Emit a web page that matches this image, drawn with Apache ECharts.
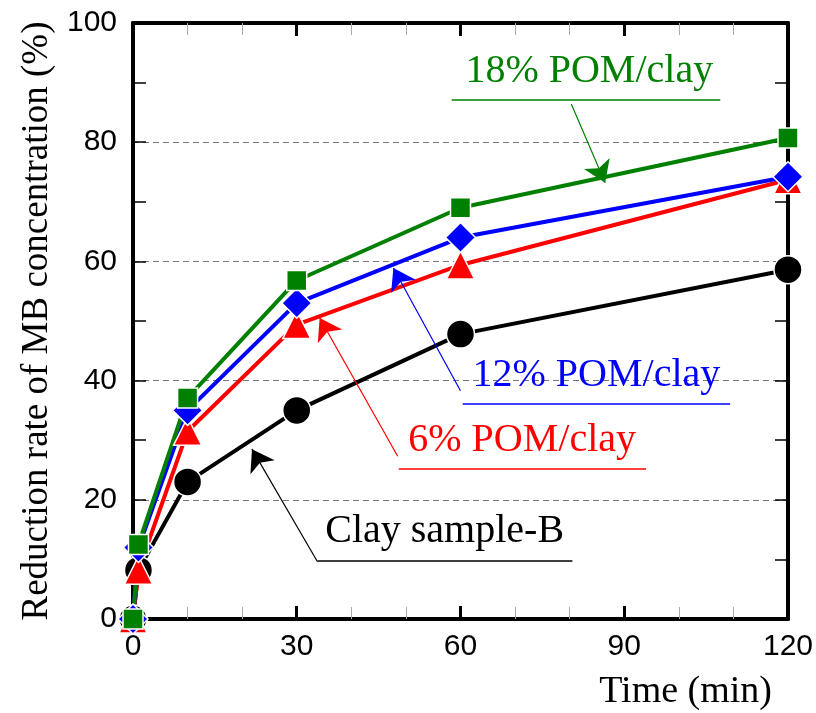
<!DOCTYPE html>
<html>
<head>
<meta charset="utf-8">
<script src="https://cdn.jsdelivr.net/npm/echarts@6/dist/echarts.min.js"></script>
<style>
  html, body { margin: 0; padding: 0; background: #fff; }
  #myChart { width: 816px; height: 713px; }
</style>
</head>
<body>
<div id="myChart"></div>
<script>
//数据
var timeMin = [0, 1, 10, 30, 60, 120];
var clayB = [0, 8.2, 23, 35, 47.8, 58.6];
var pom6 = [0, 8.2, 31.5, 49.4, 59.4, 73.7];
var pom12 = [0, 12, 35, 53, 64, 74.2];
var pom18 = [0, 12.5, 37.1, 56.8, 69, 80.7];
var yTicks = [0, 100, 20];
var xTicks = [0, 120, 30];

//注释（数据坐标）
var noteText = ['Clay sample-B', '6% POM/clay', '12% POM/clay', '18% POM/clay'];
var noteCenter = [[57.1, 14.6], [71.3, 29.9], [84.9, 40.8], [83.6, 91.8]];
var noteUnder = [
    [[33.8, 9.7], [80.5, 9.7]],
    [[48.7, 25.2], [94.0, 25.2]],
    [[60.4, 36.1], [109.4, 36.1]],
    [[58.4, 87.1], [107.6, 87.1]]
];
var noteArrow = [
    [[33.8, 9.6], [21.8, 28.5]],
    [[48.5, 27.3], [34.2, 50.5]],
    [[60.0, 38.3], [47.7, 58.9]],
    [[80.3, 86.4], [86.5, 73.2]]
];

var serif = 'Liberation Serif';
var sans = 'Liberation Sans';

function pairs(ys) {
    return timeMin.map(function (t, i) {
        return [t, ys[i]];
    });
}

//获取注释
function getMarks(i, color) {
    return {
        markLine: {
            silent: true,
            animation: false,
            symbol: ['none', 'arrow'],
            symbolSize: 21,
            label: {show: false},
            data: [
                [{coord: noteUnder[i][0], symbol: 'none', lineStyle: {width: 1.5}},
                    {coord: noteUnder[i][1], symbol: 'none'}],
                [{coord: noteArrow[i][0], lineStyle: {width: 1.2}},
                    {coord: noteArrow[i][1]}]
            ],
            lineStyle: {color: color, type: 'solid', width: 1.2}
        },
        markPoint: {
            silent: true,
            animation: false,
            symbol: 'circle',
            symbolSize: 1,
            itemStyle: {color: 'rgba(0,0,0,0)'},
            label: {
                show: true,
                position: 'inside',
                color: color,
                fontFamily: serif,
                fontSize: 40,
                formatter: noteText[i]
            },
            data: [{coord: noteCenter[i]}]
        }
    };
}

function getSeries(name, ys, color, symbol, size, i) {
    var s = {
        name: name,
        type: 'line',
        data: pairs(ys),
        symbol: symbol,
        symbolSize: size,
        showAllSymbol: true,
        lineStyle: {color: color, width: 4},
        itemStyle: {color: color, borderColor: '#fff', borderWidth: 1.5},
        animation: false
    };
    var m = getMarks(i, color);
    s.markLine = m.markLine;
    s.markPoint = m.markPoint;
    return s;
}

function xAxisCfg(pos, showLabel) {
    return {
        type: 'value',
        position: pos,
        min: xTicks[0],
        max: xTicks[1],
        interval: xTicks[2],
        axisLine: {show: true, onZero: false, lineStyle: {color: '#000', width: 4}},
        axisTick: {show: true, inside: true, length: 13, lineStyle: {color: '#000', width: 3}},
        minorTick: {show: true, splitNumber: 3, length: 12, lineStyle: {color: '#aaa', width: 1}},
        axisLabel: {show: showLabel, color: '#000', fontFamily: sans, fontSize: 30, margin: 13},
        splitLine: {show: false}
    };
}

function yAxisCfg(pos, showLabel) {
    return {
        type: 'value',
        position: pos,
        min: yTicks[0],
        max: yTicks[1],
        interval: yTicks[2],
        name: showLabel ? 'Reduction rate of MB concentration (%)' : '',
        nameLocation: 'middle',
        nameGap: 74,
        nameTextStyle: {color: '#000', fontFamily: serif, fontSize: 37},
        axisLine: {show: true, onZero: false, lineStyle: {color: '#000', width: 4}},
        axisTick: {show: true, inside: true, length: 13, lineStyle: {color: '#000', width: 1.5}},
        minorTick: {show: true, splitNumber: 2, length: 13, lineStyle: {color: '#000', width: 1.5}},
        axisLabel: {show: showLabel, color: '#000', fontFamily: sans, fontSize: 30, margin: 16},
        splitLine: {show: showLabel, lineStyle: {color: '#777', width: 1, type: [6, 4]}}
    };
}

var myChart = echarts.init(document.getElementById('myChart'));
var option = {
    backgroundColor: '#fff',
    animation: false,
    grid: {left: 133, right: 27, top: 23, bottom: 94, containLabel: false},
    xAxis: [xAxisCfg('bottom', true), xAxisCfg('top', false)],
    yAxis: [yAxisCfg('left', true), yAxisCfg('right', false)],
    graphic: [{
        type: 'text',
        right: 44,
        bottom: 2,
        style: {text: 'Time (min)', fill: '#000', font: '38px "' + serif + '"'}
    }],
    series: [
        getSeries('Clay sample-B', clayB, '#000000', 'circle', 28, 0),
        getSeries('6% POM/clay', pom6, '#ff0000', 'triangle', 28, 1),
        getSeries('12% POM/clay', pom12, '#0000ff', 'diamond', 30, 2),
        getSeries('18% POM/clay', pom18, '#008000', 'rect', 20, 3)
    ]
};
myChart.setOption(option);
</script>
</body>
</html>
